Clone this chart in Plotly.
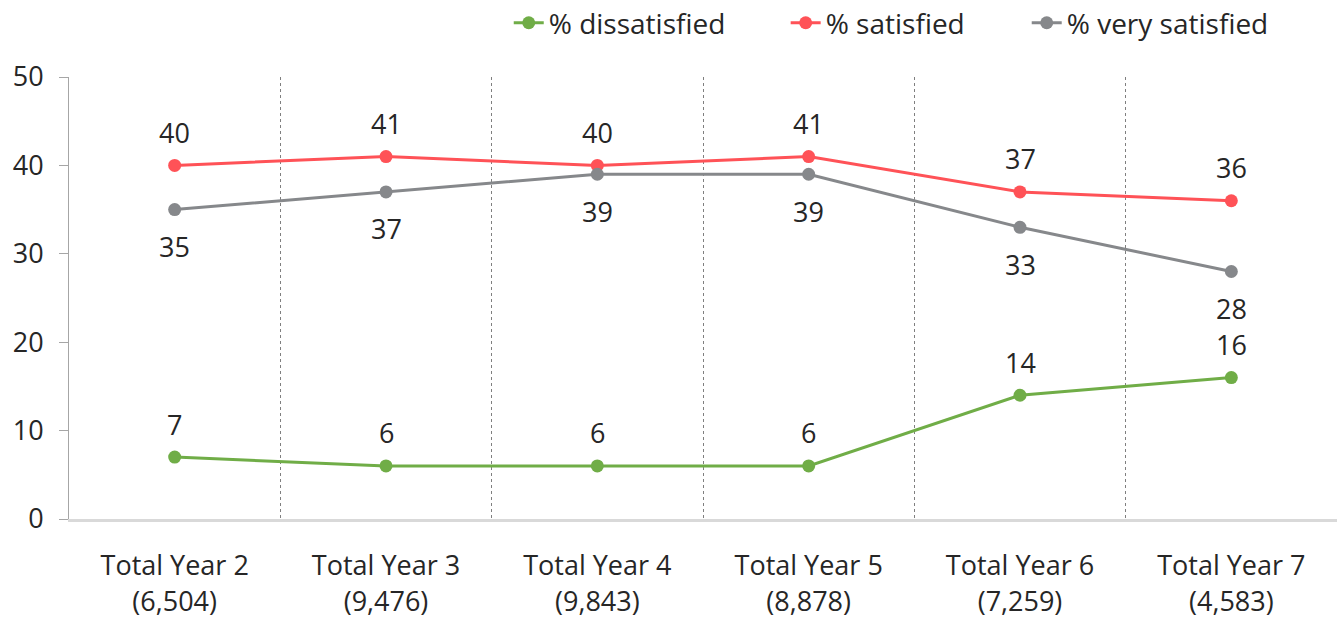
import plotly.graph_objects as go

categories = ["Total Year 2", "Total Year 3", "Total Year 4", "Total Year 5", "Total Year 6", "Total Year 7"]
bases = ["6,504", "9,476", "9,843", "8,878", "7,259", "4,583"]
dissatisfied = [7, 6, 6, 6, 14, 16]
satisfied = [40, 41, 40, 41, 37, 36]
very_satisfied = [35, 37, 39, 39, 33, 28]

labels = [f"{c}<br>({b})" for c, b in zip(categories, bases)]
FONT = "Open Sans, Noto Sans, sans-serif"
TXT = "#262626"
FS = 27

fig = go.Figure()
series = [
    ("% dissatisfied", dissatisfied, "#70ad47", 33, "legend"),
    ("% satisfied", satisfied, "#ff5257", 33, "legend2"),
    ("% very satisfied", very_satisfied, "#86888b", -37, "legend3"),
]
for name, vals, col, shift, leg in series:
    fig.add_trace(go.Scatter(
        x=labels, y=vals, name=name, mode="lines+markers",
        line=dict(color=col, width=3), marker=dict(color=col, size=13),
        cliponaxis=False, legend=leg,
    ))
    for xl, v in zip(labels, vals):
        fig.add_annotation(x=xl, y=v, text=str(v), showarrow=False, yshift=shift,
                           font=dict(size=FS, color=TXT, family=FONT))

def leg(xpos):
    return dict(orientation="h", x=xpos, xanchor="left", y=1.122, yanchor="middle",
                font=dict(size=28, color=TXT), itemwidth=30, bgcolor="rgba(0,0,0,0)")

fig.update_layout(
    width=1341, height=619,
    margin=dict(l=69, r=4, t=77, b=100, autoexpand=False),
    plot_bgcolor="white", paper_bgcolor="white",
    font=dict(family=FONT, size=FS, color=TXT),
    showlegend=True,
    legend=leg(0.3468), legend2=leg(0.5652), legend3=leg(0.7553),
    xaxis=dict(
        type="category", range=[-0.5, 5.5], tickson="boundaries",
        showgrid=True, gridcolor="#7f7f7f", griddash="dot", gridwidth=1,
        showline=True, linecolor="#d9d9d9", linewidth=3,
        ticks="", tickfont=dict(size=FS, color=TXT), fixedrange=True,
        ticklabelstandoff=21,
    ),
    yaxis=dict(
        range=[0, 50], dtick=10, showgrid=False, zeroline=False,
        showline=True, linecolor="#a6a6a6", linewidth=1,
        ticks="outside", ticklen=9, tickcolor="#a6a6a6",
        tickfont=dict(size=FS, color=TXT), ticklabelstandoff=10,
    ),
)

fig.write_html("out.html", config={"displayModeBar": False},
               post_script="document.body.style.margin='0';")
